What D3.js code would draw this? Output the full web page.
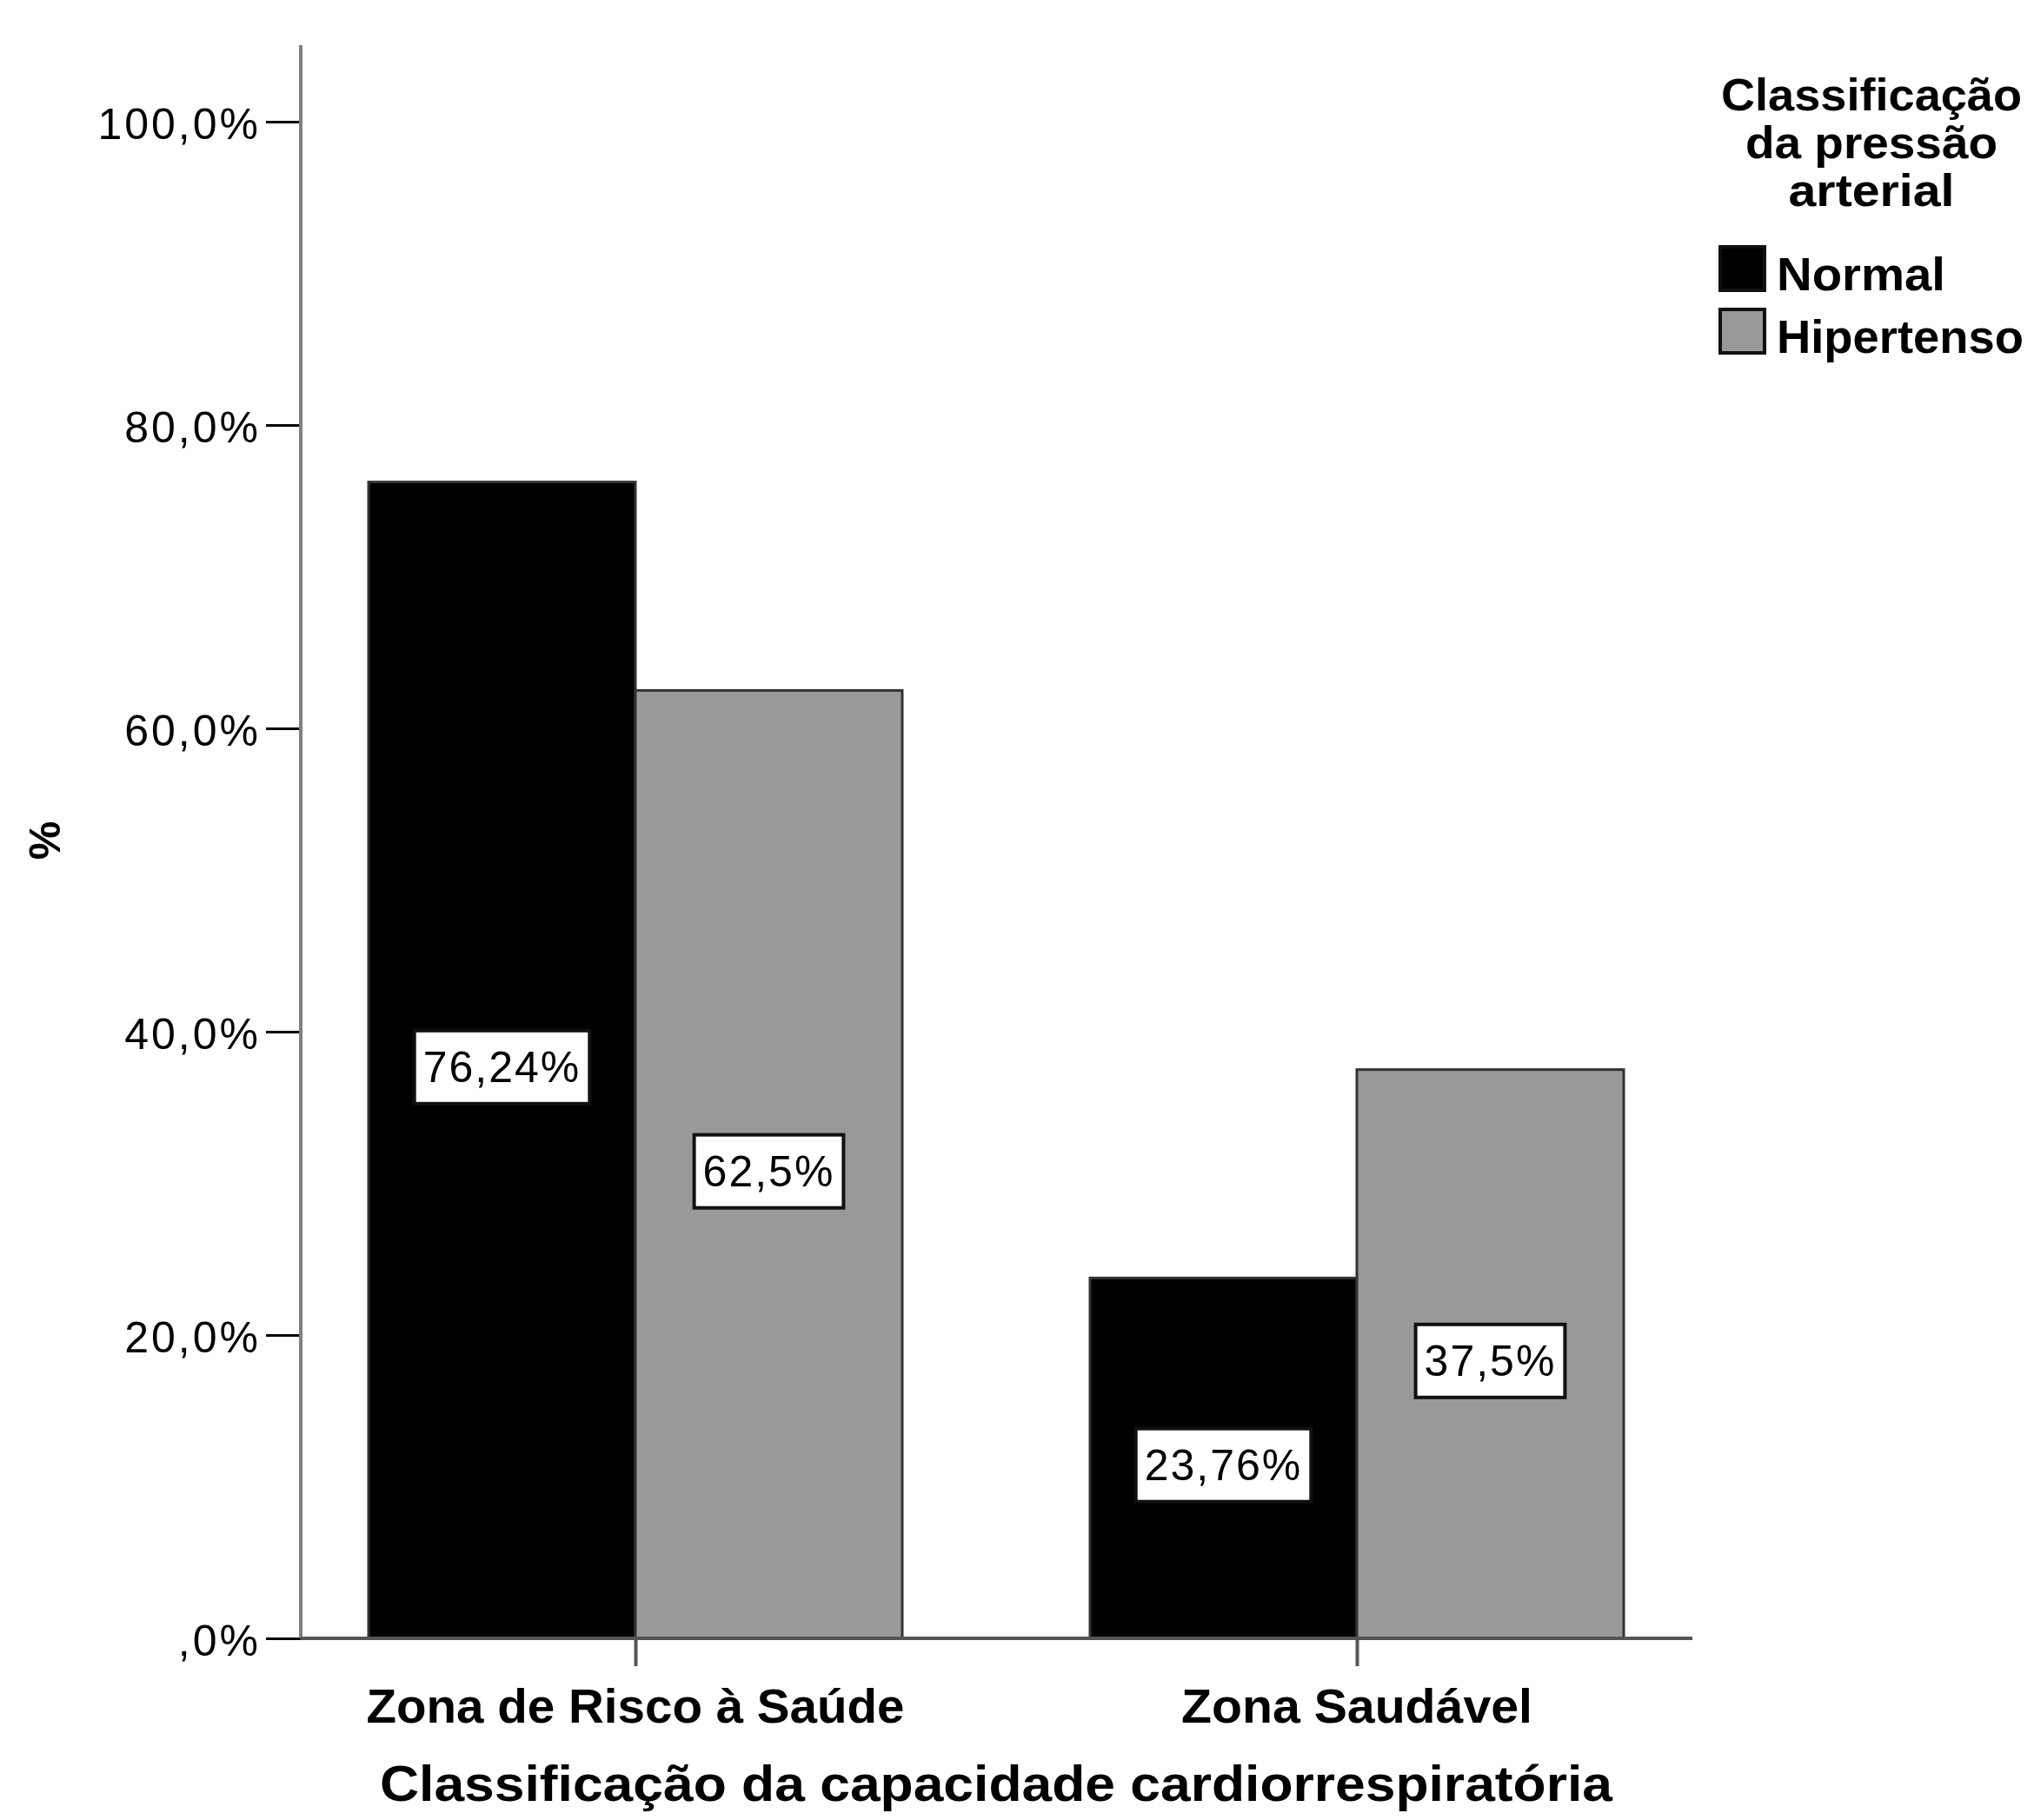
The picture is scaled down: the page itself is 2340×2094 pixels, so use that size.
<!DOCTYPE html>
<html>
<head>
<meta charset="utf-8">
<script src="https://cdn.jsdelivr.net/npm/d3@7/dist/d3.min.js"></script>
<style>
  html, body { margin: 0; padding: 0; background: #fff; }
  svg { display: block; }
</style>
</head>
<body>
<script>
// ---- data ----
const categories = ["Zona de Risco à Saúde", "Zona Saudável"];
const seriesNames = ["Normal", "Hipertenso"];
const normalValues = [76.24, 23.76];
const hipertensoValues = [62.5, 37.5];
const valueLabels = [["76,24%", "62,5%"], ["23,76%", "37,5%"]];
const yTicks = [0, 20, 40, 60, 80, 100];
const yTickLabels = [",0%", "20,0%", "40,0%", "60,0%", "80,0%", "100,0%"];
const seriesColors = ["#000000", "#999999"];
const xTitle = "Classificação da capacidade cardiorrespiratória";
const yTitle = "%";
const legendTitle = ["Classificação", "da pressão", "arterial"];

const W = 2340, H = 2094;
const svg = d3.select("body").append("svg").attr("width", W).attr("height", H);

const axisX = 346, axisTop = 52, y0 = 1885, y100 = 140, xRight = 1947;
const y = d3.scaleLinear().domain([0, 100]).range([y0, y100]);
const x0 = d3.scalePoint().domain(categories).range([731, 1561]);
const barW = 307;
const xs = d3.scaleBand().domain(seriesNames).range([-barW, barW]);

const table = categories.map((c, i) => ({cat: c, vals: [normalValues[i], hipertensoValues[i]], labels: valueLabels[i]}));

const font = "'Liberation Sans', Arial, sans-serif";

// bars
const g = svg.append("g");
table.forEach(d => {
  seriesNames.forEach((s, j) => {
    const bx = x0(d.cat) + xs(s);
    g.append("rect")
      .attr("x", bx).attr("y", y(d.vals[j]))
      .attr("width", xs.bandwidth()).attr("height", y0 - y(d.vals[j]))
      .attr("fill", seriesColors[j])
      .attr("stroke", "#333").attr("stroke-width", 3);
  });
});

// y axis
const yAxis = d3.axisLeft(y).tickValues(yTicks).tickFormat((d, i) => yTickLabels[i]).tickSize(40).tickPadding(6);
const ya = svg.append("g").attr("transform", `translate(${axisX},0)`).call(yAxis);
ya.select(".domain").remove();
ya.selectAll(".tick line").attr("stroke", "#000").attr("stroke-width", 3);
ya.selectAll(".tick text").attr("font-family", font).attr("font-size", 50).attr("fill", "#000")
  .attr("letter-spacing", 3).attr("dy", "0.38em");
svg.append("line").attr("x1", axisX).attr("x2", axisX).attr("y1", axisTop).attr("y2", y0)
  .attr("stroke", "#808080").attr("stroke-width", 4);

// x axis
svg.append("line").attr("x1", axisX).attr("x2", xRight).attr("y1", y0).attr("y2", y0)
  .attr("stroke", "#555").attr("stroke-width", 4);
const xAxis = d3.axisBottom(x0).tickSize(32).tickPadding(0).tickFormat("");
const xa = svg.append("g").attr("transform", `translate(0,${y0})`).call(xAxis);
xa.select(".domain").remove();
xa.selectAll(".tick line").attr("stroke", "#555").attr("stroke-width", 4);

const catWidths = [619, 404];
categories.forEach((c, i) => {
  svg.append("text").attr("x", x0(c)).attr("y", 1982)
    .attr("text-anchor", "middle").attr("font-family", font).attr("font-weight", "bold")
    .attr("font-size", 56).attr("textLength", catWidths[i]).attr("lengthAdjust", "spacingAndGlyphs")
    .text(c);
});

// value labels
table.forEach(d => {
  seriesNames.forEach((s, j) => {
    const cx = x0(d.cat) + xs(s) + xs.bandwidth() / 2;
    const cy = y(d.vals[j] / 2) + 8;
    const lg = svg.append("g");
    const t = lg.append("text").attr("x", cx).attr("y", cy)
      .attr("text-anchor", "middle").attr("dominant-baseline", "central")
      .attr("font-family", font).attr("font-size", 50).attr("letter-spacing", 2)
      .attr("fill", "#000").text(d.labels[j]);
    const bb = t.node().getBBox();
    lg.insert("rect", "text")
      .attr("x", cx - bb.width / 2 - 10).attr("y", cy - 42)
      .attr("width", bb.width + 20).attr("height", 84)
      .attr("fill", "#fff").attr("stroke", "#111").attr("stroke-width", 4);
  });
});

// axis titles
svg.append("text").attr("x", 1146).attr("y", 2072).attr("text-anchor", "middle")
  .attr("font-family", font).attr("font-weight", "bold").attr("font-size", 58)
  .attr("textLength", 1418).attr("lengthAdjust", "spacingAndGlyphs").text(xTitle);
svg.append("text").attr("transform", "translate(52,967) rotate(-90)")
  .attr("text-anchor", "middle").attr("dominant-baseline", "central")
  .attr("font-family", font).attr("font-weight", "bold").attr("font-size", 50).text(yTitle);

// legend
const ltWidths = [346, 290, 191];
legendTitle.forEach((t, i) => {
  svg.append("text").attr("x", 2153).attr("y", 127 + i * 55).attr("text-anchor", "middle")
    .attr("font-family", font).attr("font-weight", "bold").attr("font-size", 52)
    .attr("textLength", ltWidths[i]).attr("lengthAdjust", "spacingAndGlyphs").text(t);
});
const legY = [284, 356];
const legTW = [194, 284];
seriesNames.forEach((s, i) => {
  svg.append("rect").attr("x", 1979).attr("y", legY[i]).attr("width", 51).attr("height", 50)
    .attr("fill", seriesColors[i]).attr("stroke", "#111").attr("stroke-width", 4);
  svg.append("text").attr("x", 2044).attr("y", legY[i] + 50)
    .attr("font-family", font).attr("font-weight", "bold").attr("font-size", 54)
    .attr("textLength", legTW[i]).attr("lengthAdjust", "spacingAndGlyphs").text(s);
});
</script>
</body>
</html>
